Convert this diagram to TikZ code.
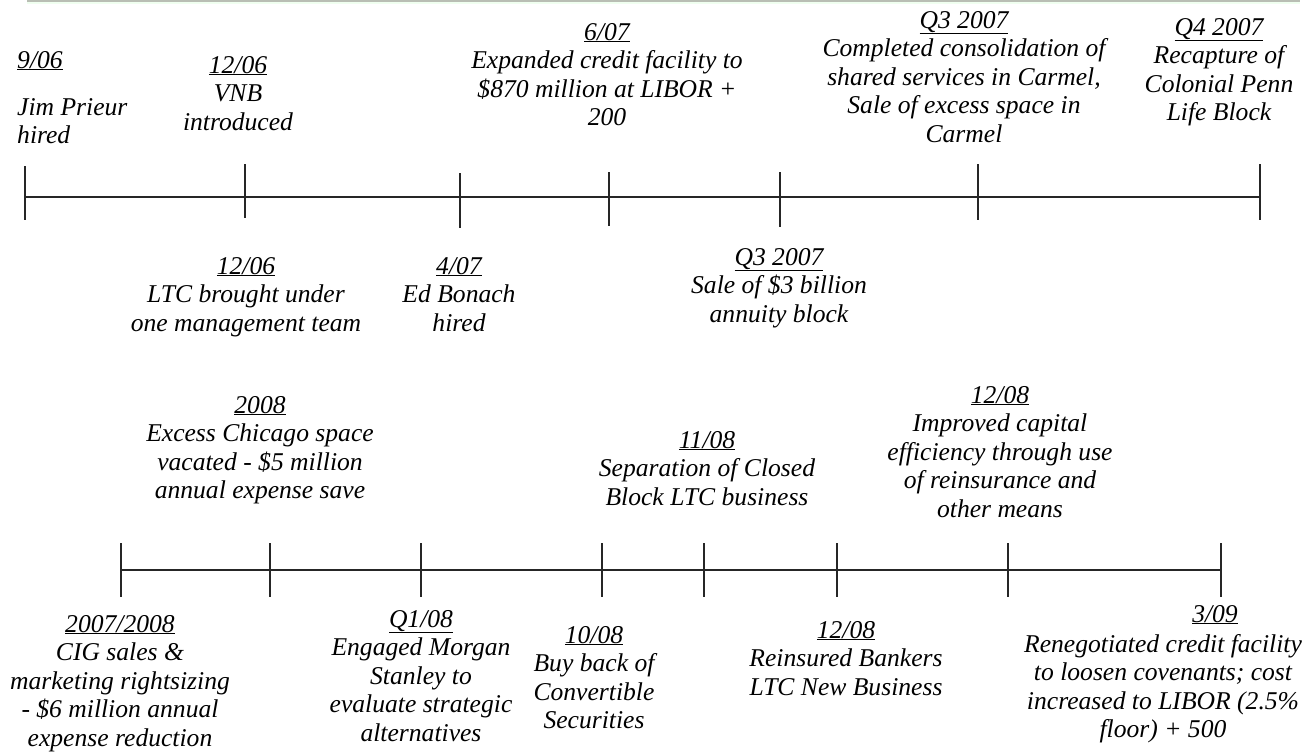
\documentclass[tikz,border=0pt]{standalone}
\usepackage{fontspec}
\setmainfont{Liberation Serif}
\begin{document}
\begin{tikzpicture}[x=1pt,y=-1pt,
  evt/.style={font=\fontsize{25.6}{28.5}\selectfont\itshape, inner sep=0pt, anchor=base, align=center},
  evtl/.style={evt, anchor=base west, align=left},
  axis/.style={line width=1.5pt, draw=black!85},
  tick/.style={line width=1.5pt, draw=black!85}]
\useasboundingbox (0,0) rectangle (1307,753);
\fill[green!6] (27,1.5) rectangle (1300,4);
\draw[line width=1.5pt, draw={rgb,255:red,185;green,190;blue,180}] (27,0.75) -- (1300,0.75);
\newcommand{\ev}[2]{\begin{tabular}[t]{@{}c@{}}\underline{#1}\\#2\end{tabular}}
% ---------- top timeline ----------
\foreach \n/\x/\a/\b in {t1/25/166/220, t2/245/164/218, t3/460/173/228, t4/609/172/226, t5/780/172/227, t6/978/164/220, t7/1260/164/220} {
  \coordinate (\n a) at (\x,\a);
  \coordinate (\n b) at (\x,\b);
  \coordinate (\n) at (\x,197);
  \draw[tick] (\n a) -- (\n b);
}
\draw[axis] (t1) -- (t2) -- (t3) -- (t4) -- (t5) -- (t6) -- (t7);
\node[evtl] (d1) at (17,68) {\underline{9/06}};
\node[evtl] (e1) at (17,115) {\begin{tabular}[t]{@{}l@{}}Jim Prieur\\hired\end{tabular}};
\node[evt] (e2) at (238,73) {\ev{12/06}{VNB\\introduced}};
\node[evt] (e4) at (607,40) {\ev{6/07}{Expanded credit facility to\\\$870 million at LIBOR +\\200}};
\node[evt] (e6) at (964,28) {\ev{Q3 2007}{Completed consolidation of\\shared services in Carmel,\\Sale of excess space in\\Carmel}};
\node[evt] (e7) at (1219,35) {\ev{Q4 2007}{Recapture of\\Colonial Penn\\Life Block}};
\node[evt] (e2b) at (246,274) {\ev{12/06}{LTC brought under\\one management team}};
\node[evt] (e3) at (459,274) {\ev{4/07}{Ed Bonach\\hired}};
\node[evt] (e5) at (779,265) {\ev{Q3 2007}{Sale of \$3 billion\\annuity block}};
% ---------- bottom timeline ----------
\foreach \n/\x in {b1/121, b2/270, b3/421, b4/602, b5/704, b6/837, b7/1008, b8/1221} {
  \coordinate (\n a) at (\x,543);
  \coordinate (\n b) at (\x,597);
  \coordinate (\n) at (\x,570);
  \draw[tick] (\n a) -- (\n b);
}
\draw[axis] (b1) -- (b2) -- (b3) -- (b4) -- (b5) -- (b6) -- (b7) -- (b8);
\node[evt] (f1) at (120,632) {\ev{2007/2008}{CIG sales \&\\marketing rightsizing\\- \$6 million annual\\expense reduction}};
\node[evt] (f2) at (260,413) {\ev{2008}{Excess Chicago space\\vacated - \$5 million\\annual expense save}};
\node[evt] (f3) at (421,627) {\ev{Q1/08}{Engaged Morgan\\Stanley to\\evaluate strategic\\alternatives}};
\node[evt] (f4) at (594,643) {\ev{10/08}{Buy back of\\Convertible\\Securities}};
\node[evt] (f5) at (707,448) {\ev{11/08}{Separation of Closed\\Block LTC business}};
\node[evt] (f6) at (846,638) {\ev{12/08}{Reinsured Bankers\\LTC New Business}};
\node[evt] (f7) at (1000,403) {\ev{12/08}{Improved capital\\efficiency through use\\of reinsurance and\\other means}};
\node[evt] (d8) at (1215,622) {\underline{3/09}};
\node[evt] (f8) at (1163,652) {\begin{tabular}[t]{@{}c@{}}Renegotiated credit facility\\to loosen covenants; cost\\increased to LIBOR (2.5\%\\floor) + 500\end{tabular}};
\end{tikzpicture}
\end{document}
